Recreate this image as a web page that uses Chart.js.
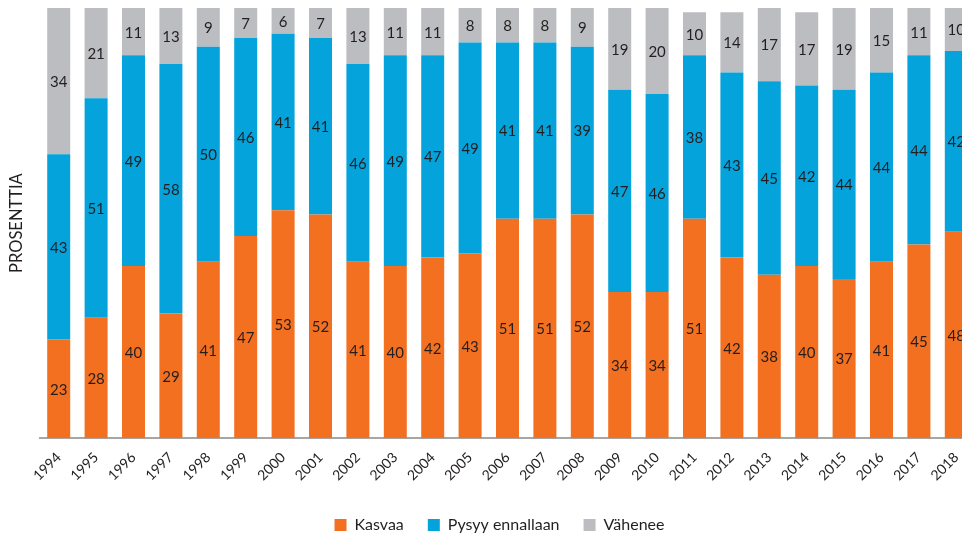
<!DOCTYPE html>
<html>
<head>
<meta charset="utf-8">
<script src="https://cdn.jsdelivr.net/npm/chart.js@4/dist/chart.umd.min.js"></script>
<style>
  html, body { margin: 0; padding: 0; background: #fff; overflow: hidden; }
  #wrap { position: absolute; left: 0; top: 0; width: 1000px; height: 537px; }
</style>
</head>
<body>
<div id="wrap"><canvas id="chart"></canvas></div>
<script>
// Yearly answers, percent
const years = ['1994', '1995', '1996', '1997', '1998', '1999', '2000', '2001', '2002', '2003', '2004', '2005', '2006',
    '2007', '2008', '2009', '2010', '2011', '2012', '2013', '2014', '2015', '2016', '2017', '2018'];
const kasvaa = [23, 28, 40, 29, 41, 47, 53, 52, 41, 40, 42, 43, 51, 51, 52, 34, 34, 51, 42, 38, 40, 37, 41, 45, 48];
const pysyy = [43, 51, 49, 58, 50, 46, 41, 41, 46, 49, 47, 49, 41, 41, 39, 47, 46, 38, 43, 45, 42, 44, 44, 44, 42];
const vahenee = [34, 21, 11, 13, 9, 7, 6, 7, 13, 11, 11, 8, 8, 8, 9, 19, 20, 10, 14, 17, 17, 19, 15, 11, 10];

const FONT = 'Lato, "Open Sans", sans-serif';
const TEXT = '#231f20';

// Value label in the middle of each bar segment
const segmentLabels = {
    id: 'segmentLabels',
    afterDatasetsDraw(chart) {
        const ctx = chart.ctx;
        ctx.save();
        ctx.font = '15px ' + FONT;
        ctx.fillStyle = TEXT;
        ctx.textAlign = 'center';
        ctx.textBaseline = 'middle';
        chart.data.datasets.forEach((ds, i) => {
            const meta = chart.getDatasetMeta(i);
            meta.data.forEach((bar, j) => {
                const y = (bar.y + bar.base) / 2;
                ctx.fillText(ds.data[j], bar.x, y + 1);
            });
        });
        ctx.restore();
    }
};

// push the legend a bit lower and to the right of its default spot
const legendShift = {
    id: 'legendShift',
    afterLayout(chart) {
        const lg = chart.legend;
        lg.top += 6; lg.bottom += 6;
        lg.left += 12; lg.right += 12;
        if (lg.legendHitBoxes) lg.adjustHitBoxes();
    }
};

const ctx = document.getElementById('chart').getContext('2d');
new Chart(ctx, {
    type: 'bar',
    data: {
        labels: years,
        datasets: [
            { label: 'Kasvaa', data: kasvaa, backgroundColor: '#f37021' },
            { label: 'Pysyy ennallaan', data: pysyy, backgroundColor: '#05a3dc' },
            { label: 'Vähenee', data: vahenee, backgroundColor: '#bcbdc0' }
        ]
    },
    options: {
        responsive: true,
        maintainAspectRatio: false,
        animation: false,
        categoryPercentage: 1,
        barPercentage: 0.615,
        layout: { padding: { top: 8, right: 25, left: 0, bottom: 0 } },
        scales: {
            x: {
                stacked: true,
                grid: { display: false },
                border: { display: true, color: '#a6a6a6', width: 2 },
                ticks: {
                    minRotation: 45,
                    maxRotation: 45,
                    color: TEXT,
                    font: { family: FONT, size: 14 }
                }
            },
            y: {
                stacked: true,
                min: 0,
                max: 100,
                grid: { display: false },
                border: { display: false },
                ticks: { display: false },
                title: {
                    display: true,
                    text: 'PROSENTTIA',
                    color: TEXT,
                    padding: { top: 7, bottom: 4 },
                    font: { family: FONT, size: 16.5 }
                },
                afterFit(scale) { scale.width = 40; }
            }
        },
        plugins: {
            legend: {
                position: 'bottom',
                labels: {
                    boxWidth: 12,
                    boxHeight: 12,
                    padding: 24,
                    color: TEXT,
                    font: { family: FONT, size: 16 }
                }
            },
            tooltip: { enabled: false }
        }
    },
    plugins: [segmentLabels, legendShift]
});
</script>
</body>
</html>
